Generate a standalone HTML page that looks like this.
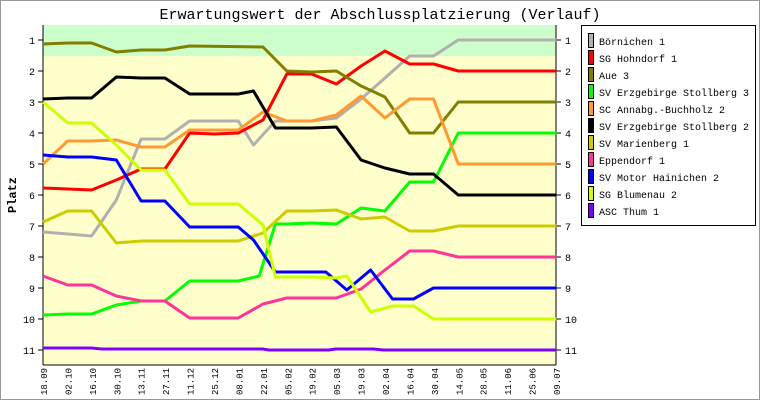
<!DOCTYPE html><html><head><style>body{margin:0;background:#fff}svg{display:block}</style></head><body>
<svg width="760" height="400" xmlns="http://www.w3.org/2000/svg" font-family="Liberation Mono, monospace">
<rect x="0.5" y="0.5" width="759" height="399" fill="#fff" stroke="#999"/>
<text x="380" y="19" font-size="15" text-anchor="middle" fill="#000">Erwartungswert der Abschlussplatzierung (Verlauf)</text>
<rect x="43" y="25" width="513" height="340" fill="#ffffcc"/>
<rect x="43" y="25" width="513" height="31" fill="#ccffcc"/>
<g stroke="#000" fill="none"><line x1="43" y1="25" x2="43" y2="365"/><line x1="556" y1="25" x2="556" y2="365"/><line x1="43" y1="365" x2="556" y2="365"/></g>
<g font-size="10" fill="#000">
<g stroke="#000">
<line x1="38" x2="43" y1="40" y2="40"/><line x1="38" x2="43" y1="71" y2="71"/><line x1="38" x2="43" y1="102" y2="102"/><line x1="38" x2="43" y1="133" y2="133"/><line x1="38" x2="43" y1="164" y2="164"/><line x1="38" x2="43" y1="195" y2="195"/><line x1="38" x2="43" y1="226" y2="226"/><line x1="38" x2="43" y1="257" y2="257"/><line x1="38" x2="43" y1="288" y2="288"/><line x1="38" x2="43" y1="319" y2="319"/><line x1="38" x2="43" y1="350" y2="350"/>
<line x1="556" x2="561" y1="40" y2="40"/><line x1="556" x2="561" y1="71" y2="71"/><line x1="556" x2="561" y1="102" y2="102"/><line x1="556" x2="561" y1="133" y2="133"/><line x1="556" x2="561" y1="164" y2="164"/><line x1="556" x2="561" y1="195" y2="195"/><line x1="556" x2="561" y1="226" y2="226"/><line x1="556" x2="561" y1="257" y2="257"/><line x1="556" x2="561" y1="288" y2="288"/><line x1="556" x2="561" y1="319" y2="319"/><line x1="556" x2="561" y1="350" y2="350"/>
</g>
<g text-anchor="end"><text x="35" y="44">1</text><text x="35" y="75">2</text><text x="35" y="106">3</text><text x="35" y="137">4</text><text x="35" y="168">5</text><text x="35" y="199">6</text><text x="35" y="230">7</text><text x="35" y="261">8</text><text x="35" y="292">9</text><text x="35" y="323">10</text><text x="35" y="354">11</text></g>
<g><text x="565" y="44">1</text><text x="565" y="75">2</text><text x="565" y="106">3</text><text x="565" y="137">4</text><text x="565" y="168">5</text><text x="565" y="199">6</text><text x="565" y="230">7</text><text x="565" y="261">8</text><text x="565" y="292">9</text><text x="565" y="323">10</text><text x="565" y="354">11</text></g>
</g>
<text transform="translate(16,195) rotate(-90)" font-size="12" font-weight="bold" text-anchor="middle">Platz</text>
<g font-size="9" fill="#000">
<text transform="translate(47,395) rotate(-90)">18.09</text><text transform="translate(71.4,395) rotate(-90)">02.10</text><text transform="translate(95.9,395) rotate(-90)">16.10</text><text transform="translate(120.3,395) rotate(-90)">30.10</text><text transform="translate(144.7,395) rotate(-90)">13.11</text><text transform="translate(169.1,395) rotate(-90)">27.11</text><text transform="translate(193.6,395) rotate(-90)">11.12</text><text transform="translate(218,395) rotate(-90)">25.12</text><text transform="translate(242.4,395) rotate(-90)">08.01</text><text transform="translate(266.9,395) rotate(-90)">22.01</text><text transform="translate(291.3,395) rotate(-90)">05.02</text><text transform="translate(315.7,395) rotate(-90)">19.02</text><text transform="translate(340.1,395) rotate(-90)">05.03</text><text transform="translate(364.6,395) rotate(-90)">19.03</text><text transform="translate(389,395) rotate(-90)">02.04</text><text transform="translate(413.4,395) rotate(-90)">16.04</text><text transform="translate(437.9,395) rotate(-90)">30.04</text><text transform="translate(462.3,395) rotate(-90)">14.05</text><text transform="translate(486.7,395) rotate(-90)">28.05</text><text transform="translate(511.1,395) rotate(-90)">11.06</text><text transform="translate(535.6,395) rotate(-90)">25.06</text><text transform="translate(560,395) rotate(-90)">09.07</text>
</g>
<g fill="none" stroke-width="3" stroke-linejoin="round" transform="matrix(0.9524,0,0,1,2.05,0)">
<g vector-effect="non-scaling-stroke">
<polyline vector-effect="non-scaling-stroke" stroke="#b0b0b0" points="43,232 69,234 94,236 120,200 146,139 171,139 197,121 223,121 248,121 264,145 287,121 299,121 325,121 351,118 377,99 402,78 428,56 453,56 479,40 582,40"/>
<polyline vector-effect="non-scaling-stroke" stroke="#ff0000" points="43,188 69,189 94,190 120,180 146,169 171,169 197,133 223,134 248,133 274,120 299,74 325,74 351,84 377,66 402,51 428,64 453,64 479,71 582,71"/>
<polyline vector-effect="non-scaling-stroke" stroke="#808000" points="43,44 69,43 94,43 120,52 146,50 171,50 197,46 274,47 299,71 325,72 351,71 377,86 402,97 428,133 453,133 479,102 582,102"/>
<polyline vector-effect="non-scaling-stroke" stroke="#00ff00" points="43,315 69,314 94,314 120,305 146,301 171,301 197,281 223,281 248,281 270,276 287,224 299,224 325,223 351,224 377,208 402,211 428,182 453,182 479,133 582,133"/>
<polyline vector-effect="non-scaling-stroke" stroke="#ff9933" points="43,164 69,141 94,141 120,140 146,147 171,147 197,130 223,130 248,130 274,112 299,121 325,121 351,115 377,96 402,118 428,99 453,99 479,164 582,164"/>
<polyline vector-effect="non-scaling-stroke" stroke="#000000" points="43,99 69,98 94,98 120,77 146,78 171,78 197,94 223,94 248,94 264,91 287,128 299,128 325,128 351,127 377,160 402,168 428,174 453,174 479,195 582,195"/>
<polyline vector-effect="non-scaling-stroke" stroke="#cccc00" points="43,222 69,211 94,211 120,243 146,241 171,241 197,241 248,241 274,233 299,211 325,211 351,210 377,219 402,217 428,231 453,231 479,226 582,226"/>
<polyline vector-effect="non-scaling-stroke" stroke="#ff3399" points="43,276 69,285 94,285 120,296 146,301 171,301 197,318 223,318 248,318 274,304 299,298 325,298 351,298 377,289 402,270 428,251 453,251 479,257 582,257"/>
<polyline vector-effect="non-scaling-stroke" stroke="#0000ff" points="43,155 69,157 94,157 120,160 146,201 171,201 197,227 223,227 248,227 264,240 287,272 299,272 325,272 340,272 362,290 387,270 410,299 432,299 453,288 582,288"/>
<polyline vector-effect="non-scaling-stroke" stroke="#ccff00" points="43,102 69,123 94,123 120,145 146,170 171,170 197,204 223,204 248,204 274,225 287,277 299,277 325,277 351,278 362,276 387,312 410,306 432,306 453,319 582,319"/>
<polyline vector-effect="non-scaling-stroke" stroke="#8000ff" points="43,348 94,348 105,349 274,349 280,350 343,350 350,349 390,349 400,350 582,350"/>
</g>
</g>
<rect x="581.5" y="25.5" width="174" height="200" fill="#fff" stroke="#000"/>
<g font-size="10" fill="#000">
<g stroke="#000" stroke-width="1">
<rect x="588.5" y="33.5" width="5" height="14" fill="#b0b0b0"/><rect x="588.5" y="50.5" width="5" height="14" fill="#ff0000"/><rect x="588.5" y="67.5" width="5" height="14" fill="#808000"/><rect x="588.5" y="84.5" width="5" height="14" fill="#00ff00"/><rect x="588.5" y="101.5" width="5" height="14" fill="#ff9933"/><rect x="588.5" y="118.5" width="5" height="14" fill="#000"/><rect x="588.5" y="135.5" width="5" height="14" fill="#cccc00"/><rect x="588.5" y="152.5" width="5" height="14" fill="#ff3399"/><rect x="588.5" y="169.5" width="5" height="14" fill="#0000ff"/><rect x="588.5" y="186.5" width="5" height="14" fill="#ccff00"/><rect x="588.5" y="203.5" width="5" height="14" fill="#8000ff"/>
</g>
<text x="599" y="45">Börnichen 1</text><text x="599" y="62">SG Hohndorf 1</text><text x="599" y="79">Aue 3</text><text x="599" y="96">SV Erzgebirge Stollberg 3</text><text x="599" y="113">SC Annabg.-Buchholz 2</text><text x="599" y="130">SV Erzgebirge Stollberg 2</text><text x="599" y="147">SV Marienberg 1</text><text x="599" y="164">Eppendorf 1</text><text x="599" y="181">SV Motor Hainichen 2</text><text x="599" y="198">SG Blumenau 2</text><text x="599" y="215">ASC Thum 1</text>
</g>
</svg>
</body></html>
